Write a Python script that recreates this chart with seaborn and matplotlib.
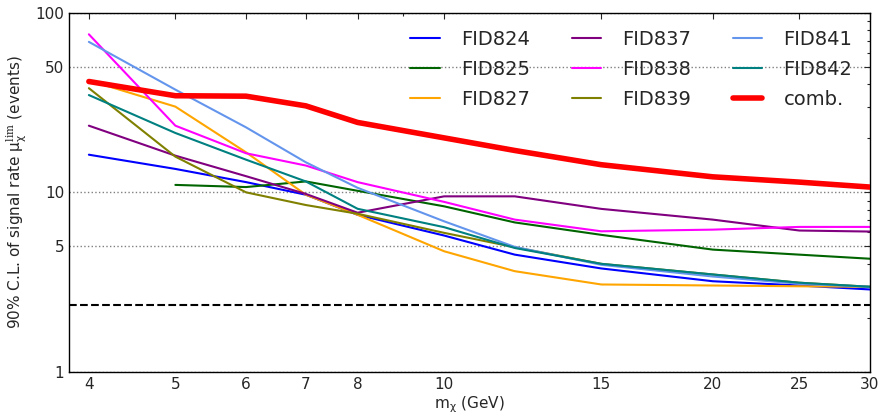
import numpy as np
import pandas as pd
import matplotlib
matplotlib.use("Agg")
import matplotlib.pyplot as plt
import seaborn as sns
from matplotlib.ticker import FixedLocator, NullFormatter, FixedFormatter

# dark matter mass points (GeV)
MASS = [4, 5, 6, 7, 8, 10, 12, 15, 20, 25, 30]

# 90% C.L. upper limits per detector
FID824 = [16.2, 13.5, 11.4, 9.7, 7.5, 5.75, 4.5, 3.77, 3.2, 3.03, 2.88]
FID825 = [np.nan, 11.0, 10.7, 11.5, 10.2, 8.36, 6.8, 5.8, 4.8, 4.5, 4.27]
FID827 = [42.0, 30.0, 16.7, 9.7, 7.5, 4.7, 3.64, 3.07, 3.03, 3.0, 2.98]
FID837 = [23.5, 16.0, 12.3, 9.8, 7.7, 9.5, 9.5, 8.09, 7.05, 6.13, 6.05]
FID838 = [75.8, 23.5, 16.5, 14.1, 11.4, 8.85, 7.05, 6.07, 6.2, 6.42, 6.42]
FID839 = [38.0, 15.8, 10.0, 8.5, 7.6, 5.95, 4.95, 4.0, 3.49, 3.14, 2.98]
FID841 = [68.8, 37.3, 23.0, 14.7, 10.6, 6.9, 4.97, 3.95, 3.4, 3.1, 2.98]
FID842 = [34.8, 21.4, 15.2, 11.5, 8.1, 6.4, 4.9, 4.0, 3.49, 3.14, 2.98]
COMB = [41.4, 34.5, 34.3, 30.3, 24.5, 20.1, 17.1, 14.25, 12.2, 11.4, 10.7]

NO_SIGNAL = 2.35

SERIES = {
    "FID824": (FID824, "blue"),
    "FID825": (FID825, "darkgreen"),
    "FID827": (FID827, "orange"),
    "FID837": (FID837, "purple"),
    "FID838": (FID838, "magenta"),
    "FID839": (FID839, "olive"),
    "FID841": (FID841, "cornflowerblue"),
    "FID842": (FID842, "teal"),
    "comb.":  (COMB, "red"),
}

X_TICKS = [4, 5, 6, 7, 8, 10, 15, 20, 25, 30]
Y_TICKS = [1, 5, 10, 50, 100]

sns.set_style("white")
plt.rcParams["font.family"] = ["DejaVu Sans"]
plt.rcParams["mathtext.fontset"] = "custom"
plt.rcParams["mathtext.it"] = "DejaVu Sans"
plt.rcParams["mathtext.rm"] = "DejaVu Serif"

fig = plt.figure(figsize=(8.81, 4.19), dpi=100)
ax = fig.add_axes([0.0783, 0.1122, 0.9092, 0.8575])

for name, (vals, color) in SERIES.items():
    df = pd.DataFrame({"mass": MASS, "limit": vals}).dropna()
    lw = 4 if name == "comb." else 1.5
    sns.lineplot(data=df, x="mass", y="limit", color=color, lw=lw,
                 label=name, ax=ax, zorder=3 if name == "comb." else 2)

ax.axhline(NO_SIGNAL, color="black", ls="--", lw=1.5, zorder=1)

ax.set_xscale("log")
ax.set_yscale("log")
ax.set_xlim(3.8, 30)
ax.set_ylim(1, 100)

ax.xaxis.set_major_locator(FixedLocator(X_TICKS))
ax.xaxis.set_major_formatter(FixedFormatter([str(t) for t in X_TICKS]))
ax.xaxis.set_minor_locator(FixedLocator([9]))
ax.xaxis.set_minor_formatter(NullFormatter())
ax.yaxis.set_major_locator(FixedLocator(Y_TICKS))
ax.yaxis.set_major_formatter(FixedFormatter([str(t) for t in Y_TICKS]))
ax.yaxis.set_minor_locator(FixedLocator([2, 3, 4, 6, 7, 8, 9, 20, 30, 40, 60, 70, 80, 90]))
ax.yaxis.set_minor_formatter(NullFormatter())

ax.tick_params(which="both", direction="in", top=True, right=True, labelsize=11)
ax.tick_params(which="major", length=4, width=0.8)
ax.tick_params(which="minor", length=2, width=0.8)
for s in ax.spines.values():
    s.set_color("black")
    s.set_linewidth(1)

ax.yaxis.grid(True, which="major", ls=":", color="gray", lw=1)
ax.xaxis.grid(False)

ax.set_xlabel(r"m$_\chi$ (GeV)", fontsize=11, labelpad=2)
ax.set_ylabel(r"90% C.L. of signal rate μ$_\chi^{\rm lim}$ (events)", fontsize=11)

ax.legend(ncol=3, loc="upper right", frameon=False, fontsize=14,
          handlelength=1.5, handletextpad=1.1, columnspacing=2.15, labelspacing=0.55)

plt.savefig("out.png", dpi=100)
plt.close()
